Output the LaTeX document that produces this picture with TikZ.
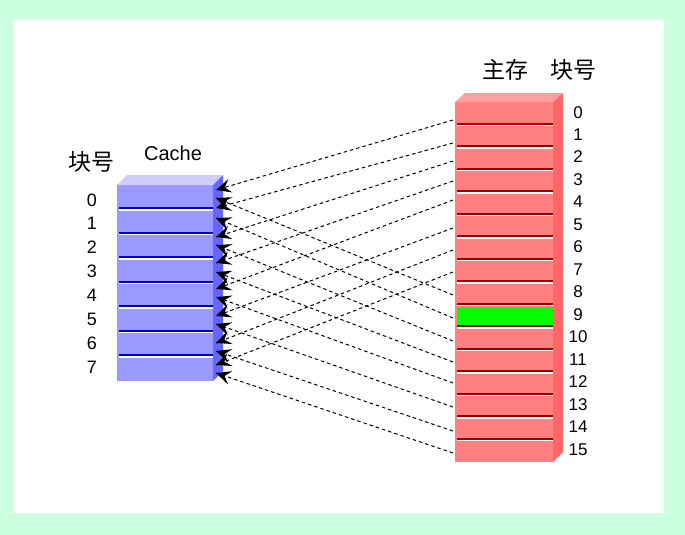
\documentclass[tikz,border=0pt]{standalone}
\usepackage{fontspec}
\setmainfont{Liberation Sans}
\newfontfamily\cjk{Noto Sans CJK SC}
\usetikzlibrary{decorations.markings}
\definecolor{bggreen}{RGB}{204,255,224}
\definecolor{cfront}{RGB}{153,153,255}
\definecolor{ctop}{RGB}{204,204,255}
\definecolor{cside}{RGB}{102,102,255}
\definecolor{cline}{RGB}{0,0,204}
\definecolor{mfront}{RGB}{255,128,128}
\definecolor{mtop}{RGB}{255,160,160}
\definecolor{mside}{RGB}{255,102,102}
\definecolor{mline}{RGB}{160,0,0}
\definecolor{hl}{RGB}{0,255,0}
\tikzset{
  conn/.style={draw=black,line width=1pt,dash pattern=on 3.5pt off 3pt,
    postaction={decorate,decoration={markings,
      mark=at position 1 with {\fill[black] (0,0) -- (-15,7) -- (-9,0) -- (-15,-7) -- cycle;}}}},
  cnum/.style={inner sep=0pt,anchor=base,font=\fontsize{18}{18}\selectfont},
  mnum/.style={inner sep=0pt,anchor=base,font=\fontsize{17}{17}\selectfont},
  zh/.style={inner sep=0pt,anchor=base,font=\cjk\fontsize{23}{23}\selectfont},
  en/.style={inner sep=0pt,anchor=base,font=\fontsize{20}{20}\selectfont},
}
\begin{document}
\begin{tikzpicture}[x=1pt,y=-1pt]
\useasboundingbox (0,0) rectangle (685,535);
\fill[bggreen] (0,0) rectangle (685,535);
\fill[white] (13,20) rectangle (664,513);
% ---- Cache box
\fill[cfront] (117,185) rectangle (213,381);
\fill[ctop] (117,185) -- (127,175) -- (223,175) -- (213,185) -- cycle;
\fill[cside] (213,185) -- (223,175) -- (223,371) -- (213,381) -- cycle;
\foreach \k in {1,...,7}{
  \pgfmathsetmacro\yy{185+24.5*\k-1.5}
  \draw[cline,line width=2pt] (119,\yy) -- (213,\yy);
  \draw[white,line width=1.5pt] (119,\yy+2.2) -- (213,\yy+2.2);
}
% ---- Main memory box
\fill[mfront] (455,102) rectangle (553,462);
\fill[mtop] (455,102) -- (465,93) -- (563,93) -- (553,102) -- cycle;
\fill[mside] (553,102) -- (563,93) -- (563,452) -- (553,462) -- cycle;
\fill[hl] (457,306.5) rectangle (553,325.5);
\foreach \k in {1,...,15}{
  \pgfmathsetmacro\yy{102+22.5*\k-1}
  \draw[mline,line width=2pt] (457,\yy) -- (553,\yy);
  \draw[white,line width=1.5pt] (457,\yy+2.2) -- (553,\yy+2.2);
}
% ---- Labels
\node[zh] (cblk) at (91,170) {块号};
\node[en] (ctitle) at (173,160) {Cache};
\node[zh] (mtitle) at (505,78) {主存};
\node[zh] (mblk) at (573,78) {块号};
\foreach \j in {0,...,7}{
  \node[cnum] (cl\j) at (92,206+23.9*\j) {\j};
}
\foreach \i in {0,...,15}{
  \node[mnum] (ml\i) at (578,118+22.47*\i) {\i};
}
% ---- Connector end points
\foreach \i/\y in {0/120,1/143,2/161,3/181,4/200,5/228,6/250,7/272,8/295,9/318,10/341,11/362,12/383,13/407,14/431,15/453}{
  \coordinate (m\i) at (453,\y);
}
\foreach \j/\u/\l in {0/190/198,1/208/218,2/237/245,3/263/272,4/289/297,5/316/324,6/343/351,7/365/373}{
  \coordinate (c\j u) at (216,\u);
  \coordinate (c\j l) at (216,\l);
}
\foreach \j in {0,...,7}{
  \pgfmathtruncatemacro\h{\j+8}
  \draw[conn] (m\j) -- (c\j u);
  \draw[conn] (m\h) -- (c\j l);
}
\end{tikzpicture}
\end{document}
